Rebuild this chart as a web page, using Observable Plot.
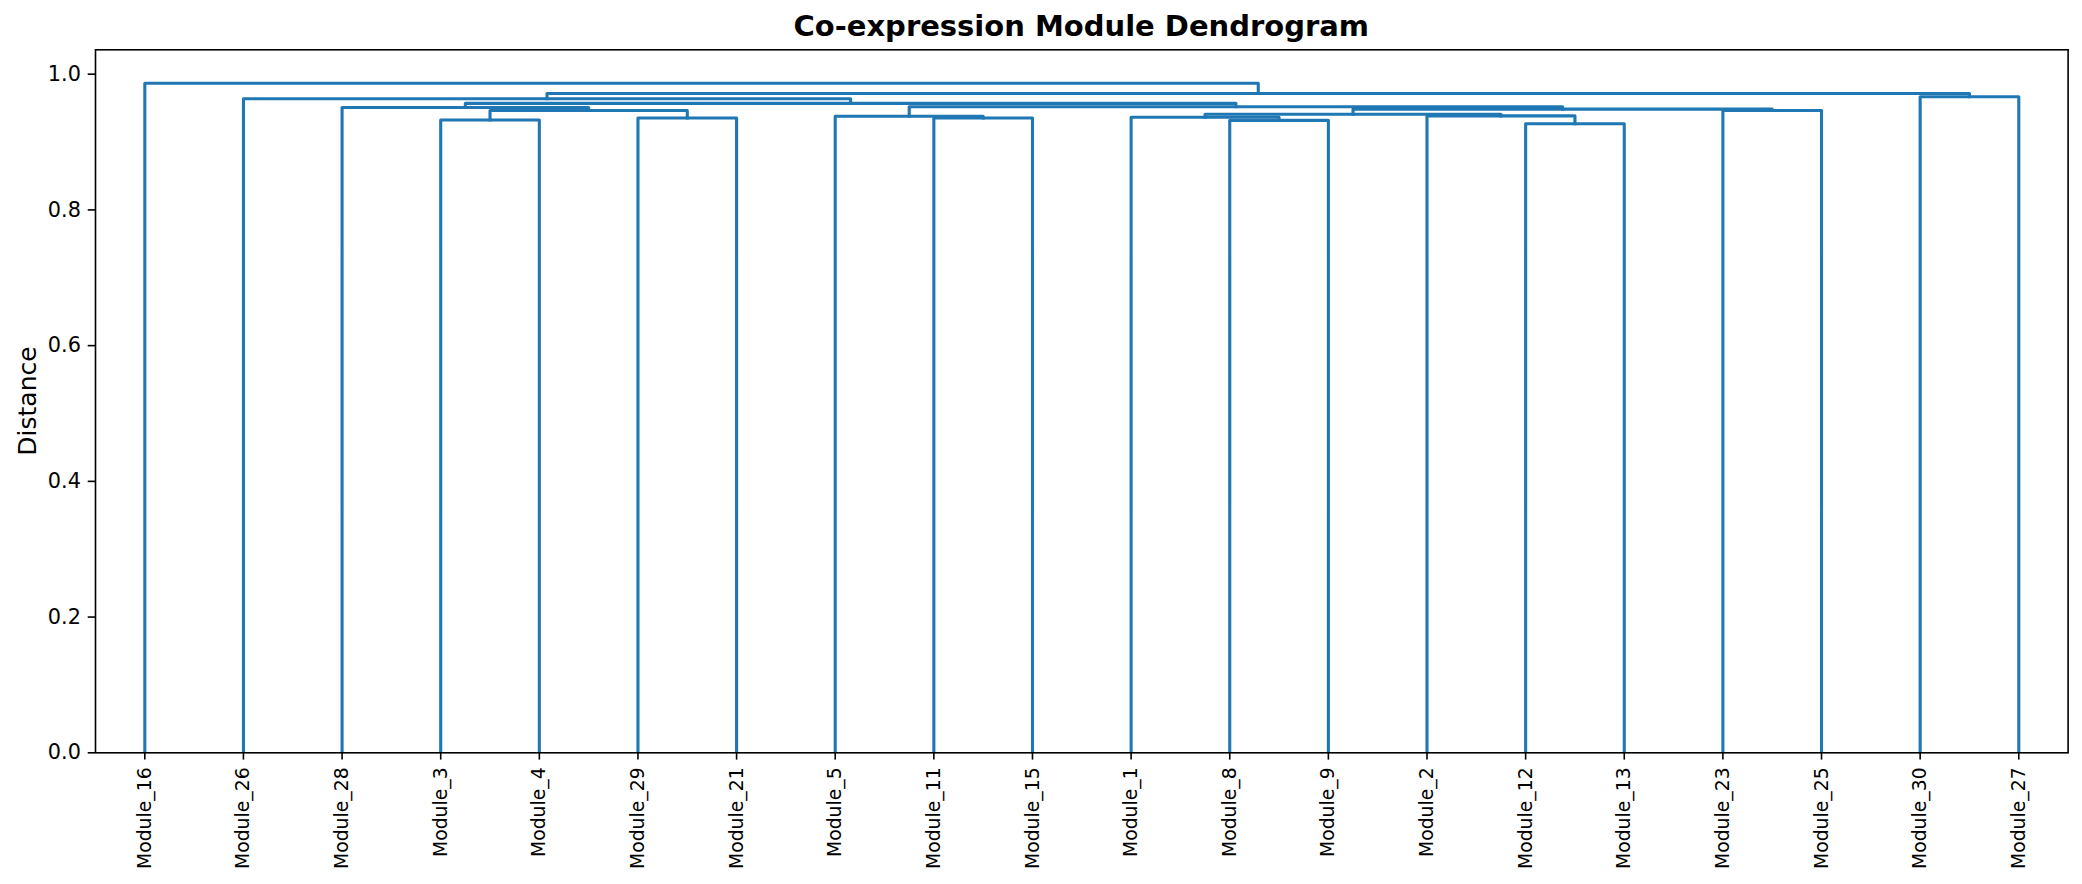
<!DOCTYPE html>
<html>
<head>
<meta charset="utf-8">
<script src="https://cdn.jsdelivr.net/npm/d3@7"></script>
<script src="https://cdn.jsdelivr.net/npm/@observablehq/plot@0.6"></script>
<style>
  body { margin: 0; background: #fff; font-family: "DejaVu Sans", sans-serif; }
  #wrap { position: relative; width: 2082px; height: 884px; }
  #title { position: absolute; left: 95px; width: 1972.6px; top: 12.3px; text-align: center;
           font-weight: bold; font-size: 29px; line-height: 29px; color: #000; white-space: nowrap; }
  #ylabel { position: absolute; left: 26.5px; top: 400.8px; transform: translate(-50%, -50%) rotate(-90deg);
            font-size: 25px; line-height: 29px; color: #000; white-space: nowrap; }
</style>
</head>
<body>
<div id="wrap">
  <div id="chart"></div>
  <div id="title"></div>
  <div id="ylabel"></div>
</div>
<script>
// ---- Data ----
const titleText = "Co-expression Module Dendrogram";
const yLabelText = "Distance";

// leaf order as drawn left to right
const leaves = ["Module_16","Module_26","Module_28","Module_3","Module_4","Module_29","Module_21",
  "Module_5","Module_11","Module_15","Module_1","Module_8","Module_9","Module_2","Module_12",
  "Module_13","Module_23","Module_25","Module_30","Module_27"];

// merges: id, left child, right child, merge distance
const mergeIds    = ["m0","m1","m2","m3","m4","m5","m6","m7","m8","m9","m10","m11","m12","m13","m14","m15","m16","m17","m18"];
const mergeLeft   = ["Module_12","Module_3","Module_8","Module_29","Module_11","Module_1","Module_5","Module_2","m5","Module_23","m1","m8","Module_28","m6","m12","Module_26","Module_30","m15","Module_16"];
const mergeRight  = ["Module_13","Module_4","Module_9","Module_21","Module_15","m2","m4","m0","m7","Module_25","m3","m9","m10","m11","m13","m14","Module_27","m16","m17"];
const mergeHeight = [0.927, 0.9325, 0.932, 0.9355, 0.9355, 0.9365, 0.938, 0.9385, 0.941, 0.9465, 0.9465, 0.9485, 0.951, 0.952, 0.957, 0.9638, 0.9667, 0.9715, 0.9866];

const yTicks = [0, 0.2, 0.4, 0.6, 0.8, 1.0];
const lineColor = "#1f77b4";

// ---- Build dendrogram paths (scipy-style coordinates: leaves at 5, 15, 25, ...) ----
const posX = new Map(), posY = new Map();
leaves.forEach((n, i) => { posX.set(n, i * 10 + 5); posY.set(n, 0); });
const pts = [];
mergeIds.forEach((id, i) => {
  const l = mergeLeft[i], r = mergeRight[i], h = mergeHeight[i];
  const xl = posX.get(l), xr = posX.get(r);
  pts.push({g: id, x: xl, y: posY.get(l)});
  pts.push({g: id, x: xl, y: h});
  pts.push({g: id, x: xr, y: h});
  pts.push({g: id, x: xr, y: posY.get(r)});
  posX.set(id, (xl + xr) / 2);
  posY.set(id, h);
});
const leafX = leaves.map((n, i) => i * 10 + 5);
const labelByX = new Map(leaves.map((n, i) => [i * 10 + 5, n]));
const yMax = d3.max(mergeHeight) * 1.05;

const chart = Plot.plot({
  width: 2082,
  height: 884,
  marginLeft: 95,
  marginRight: 14.4,
  marginTop: 49.3,
  marginBottom: 131.7,
  style: { fontFamily: "DejaVu Sans", color: "black", background: "white", overflow: "visible" },
  x: { domain: [0, leaves.length * 10] },
  y: { domain: [0, yMax] },
  marks: [
    Plot.line(pts, { x: "x", y: "y", z: "g", stroke: lineColor, strokeWidth: 3.1,
                     strokeLinecap: "square", strokeLinejoin: "round", clip: true }),
    Plot.axisY({ ticks: yTicks, tickFormat: d3.format(".1f"), tickSize: 7.3, tickPadding: 7.3,
                 fontSize: 20.8, label: null, strokeWidth: 1.6 }),
    Plot.axisX({ ticks: leafX, tickFormat: d => labelByX.get(d), tickRotate: -90, tickSize: 7.3,
                 tickPadding: 7.3, fontSize: 18.8, label: null, strokeWidth: 1.6 }),
    Plot.frame({ stroke: "black", strokeWidth: 1.6 })
  ]
});
document.getElementById("chart").appendChild(chart);
document.getElementById("title").textContent = titleText;
document.getElementById("ylabel").textContent = yLabelText;
</script>
</body>
</html>
